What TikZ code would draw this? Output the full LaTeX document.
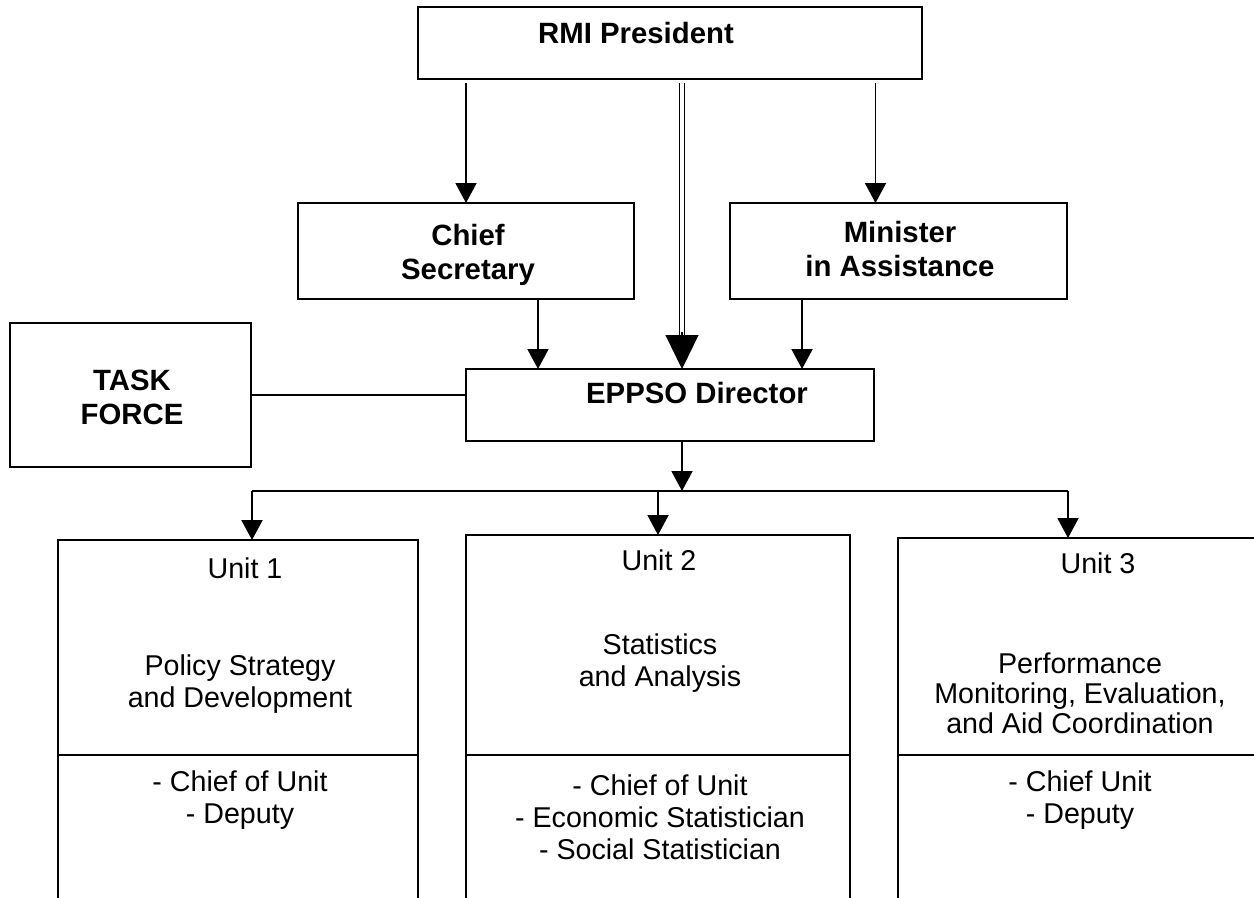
\documentclass[tikz,border=0pt]{standalone}
\usepackage{fontspec}
\setmainfont{Liberation Sans}
\usetikzlibrary{arrows.meta}

\tikzset{
  box/.style={draw, line width=1.1pt, inner sep=0pt, outer sep=0pt},
  boldtxt/.style={align=center, font=\fontsize{16.7}{19.3}\selectfont\bfseries},
  plaintxt/.style={align=center, font=\fontsize{16.3}{18.2}\selectfont},
  arr/.style={line width=1.1pt, -{Triangle[width=0.42cm,length=0.4cm]}},
  bigarr/.style={line width=0.6pt, -{Triangle[width=0.66cm,length=0.68cm]}}
}

\begin{document}
\begin{tikzpicture}[x=0.02cm, y=-0.02cm]
        \useasboundingbox (0,0) rectangle (1254,898);
        \clip (0,0) rectangle (1254,898);
        % boxes
        \node[box, minimum width=10.08cm, minimum height=1.44cm] (pres) at (670,43) {};
        \node[box, minimum width=6.72cm, minimum height=1.92cm] (chief) at (466,251) {};
        \node[box, minimum width=6.74cm, minimum height=1.92cm] (minis) at (898.5,251) {};
        \node[box, minimum width=8.16cm, minimum height=1.44cm] (dir) at (670,405) {};
        \node[box, minimum width=4.82cm, minimum height=2.88cm] (task) at (130.5,395) {};
        \node[box, minimum width=7.2cm, minimum height=8.4cm] (u1) at (238,750) {};
        \node[box, minimum width=7.68cm, minimum height=8.5cm] (u2) at (658,747.5) {};
        \node[box, minimum width=7.28cm, minimum height=8.44cm] (u3) at (1080,749) {};
        \draw[line width=1.1pt] ([yshift=-4.3cm]u1.north west) -- ([yshift=-4.3cm]u1.north east);
        \draw[line width=1.1pt] ([yshift=-4.4cm]u2.north west) -- ([yshift=-4.4cm]u2.north east);
        \draw[line width=1.1pt] ([yshift=-4.34cm]u3.north west) -- ([yshift=-4.34cm]u3.north east);
        % texts
        \node[boldtxt] (presT) at (636,33) {RMI President};
        \node[boldtxt] (chiefT) at (468,255) {Chief\\Secretary};
        \node[boldtxt] (minisT) at (900,249) {Minister\\in Assistance};
        \node[boldtxt] (dirT) at (697,393) {EPPSO Director};
        \node[boldtxt] (taskT) at (132,397) {TASK\\FORCE};
        \node[plaintxt] (u1T) at (245,568) {Unit 1};
        \node[plaintxt] (u2T) at (659,560) {Unit 2};
        \node[plaintxt] (u3T) at (1098,563) {Unit 3};
        \node[plaintxt] (u1N) at (240,684) {Policy Strategy\\and Development};
        \node[plaintxt] (u2N) at (660,663) {Statistics\\and Analysis};
        \node[plaintxt, font=\fontsize{16.3}{17}\selectfont] (u3N) at (1080,693) {Performance\\Monitoring, Evaluation,\\and Aid Coordination};
        \node[plaintxt] (u1S) at (240,800) {- Chief of Unit\\- Deputy};
        \node[plaintxt] (u2S) at (660,817) {- Chief of Unit\\- Economic Statistician\\- Social Statistician};
        \node[plaintxt] (u3S) at (1080,800) {- Chief Unit\\- Deputy};
        % connectors
        \draw[arr, shorten <=0.08cm] (pres.south -| chief.north) -- (chief.north);
        \draw[arr, shorten <=0.08cm] ([xshift=-0.46cm]minis.north |- pres.south) -- ([xshift=-0.46cm]minis.north);
        \draw[double, double distance=0.08cm, line width=0.6pt, shorten <=0.08cm, shorten >=0.6cm] ([xshift=0.24cm]pres.south) -- ([xshift=0.24cm]dir.north);
        \draw[bigarr] ([xshift=0.24cm,yshift=0.75cm]dir.north) -- ([xshift=0.24cm]dir.north);
        \draw[arr] ([xshift=1.44cm]chief.south) -- ([xshift=1.44cm]chief.south |- dir.north);
        \draw[arr] ([xshift=-1.93cm]minis.south) -- ([xshift=-1.93cm]minis.south |- dir.north);
        \draw[line width=1.1pt] (task.east) -- (task.east -| dir.west);
        \coordinate (br) at (682,491);
        \coordinate (b1) at (252,491);
        \coordinate (b3) at (1068,491);
        \draw[arr] ([xshift=0.24cm]dir.south) -- (br);
        \draw[line width=1.1pt] (b1) -- (b3);
        \draw[arr] (b1) -- (b1 |- u1.north);
        \draw[arr] (u2.north |- br) -- (u2.north);
        \draw[arr] (b3) -- (b3 |- u3.north);
    \end{tikzpicture}
\end{document}
